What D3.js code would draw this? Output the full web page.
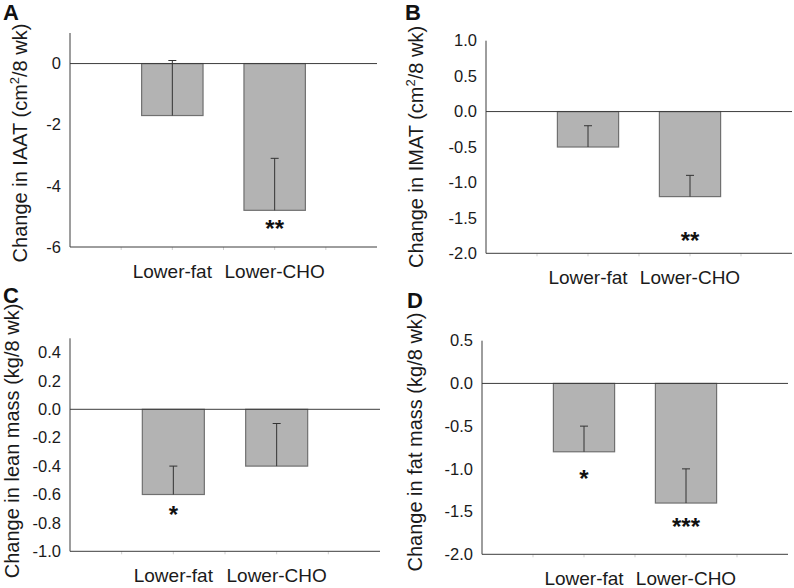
<!DOCTYPE html>
<html>
<head>
<meta charset="utf-8">
<script src="https://cdn.jsdelivr.net/npm/d3@7"></script>
<style>
  html, body { margin: 0; padding: 0; background: #fff; }
  svg { display: block; }
</style>
</head>
<body>
<svg id="chart" width="794" height="588"></svg>
<script>
// ---------------- DATA ----------------
const categories = ["Lower-fat", "Lower-CHO"];
const panelLetters = ["A", "B", "C", "D"];
const yLabelMain = ["Change in IAAT (cm", "Change in IMAT (cm", "Change in lean mass (kg/8 wk)", "Change in fat mass (kg/8 wk)"];
const yLabelSup = ["2", "2", "", ""];
const yLabelTail = ["/8 wk)", "/8 wk)", "", ""];
const yDomains = [[-6, 1], [-2, 1], [-1, 0.5], [-2, 0.5]];
const yTickValues = [
  [0, -2, -4, -6],
  [1, 0.5, 0, -0.5, -1, -1.5, -2],
  [0.4, 0.2, 0, -0.2, -0.4, -0.6, -0.8, -1],
  [0.5, 0, -0.5, -1, -1.5, -2]
];
const yTickLabels = [
  ["0", "-2", "-4", "-6"],
  ["1.0", "0.5", "0.0", "-0.5", "-1.0", "-1.5", "-2.0"],
  ["0.4", "0.2", "0.0", "-0.2", "-0.4", "-0.6", "-0.8", "-1.0"],
  ["0.5", "0.0", "-0.5", "-1.0", "-1.5", "-2.0"]
];
// mean change per panel [Lower-fat, Lower-CHO]
const meansIAAT = [-1.7, -4.8];
const meansIMAT = [-0.5, -1.2];
const meansLean = [-0.6, -0.4];
const meansFat = [-0.8, -1.4];
// top end of error bars (mean + SE)
const errTopIAAT = [0.1, -3.1];
const errTopIMAT = [-0.2, -0.9];
const errTopLean = [-0.4, -0.1];
const errTopFat = [-0.5, -1.0];
// significance markers and the value level at which they sit
const starsIAAT = ["", "**"], starLevelIAAT = [null, -5.24];
const starsIMAT = ["", "**"], starLevelIMAT = [null, -1.76];
const starsLean = ["*", ""], starLevelLean = [-0.71, null];
const starsFat = ["*", "***"], starLevelFat = [-1.06, -1.62];

const panelMeans = [meansIAAT, meansIMAT, meansLean, meansFat];
const panelErrTop = [errTopIAAT, errTopIMAT, errTopLean, errTopFat];
const panelStars = [starsIAAT, starsIMAT, starsLean, starsFat];
const panelStarLevels = [starLevelIAAT, starLevelIMAT, starLevelLean, starLevelFat];

// ---------------- LAYOUT ----------------
const layout = [
  { x0: 70,  x1: 377, yTop: 33,    yBot: 247,   letterX: 3,   letterY: 20,  labX: 27,  labY: 143 },
  { x0: 486, x1: 792, yTop: 40.7,  yBot: 253.3, letterX: 405, letterY: 20,  labX: 423, labY: 147 },
  { x0: 70,  x1: 380, yTop: 338.3, yBot: 551.3, letterX: 3,   letterY: 303, labX: 19,  labY: 441 },
  { x0: 482, x1: 788, yTop: 340.7, yBot: 554.3, letterX: 407, letterY: 308, labX: 422, labY: 442 }
];

const FONT = "'Liberation Sans', Arial, Helvetica, sans-serif";
const axisColor = "#3c3c3c";
const barFill = "#b3b3b3";
const barStroke = "#707070";
const textColor = "#1a1a1a";

const svg = d3.select("#chart").style("font-family", FONT);

layout.forEach((L, i) => {
  const g = svg.append("g");
  const y = d3.scaleLinear().domain(yDomains[i]).range([L.yBot, L.yTop]);
  const x = d3.scalePoint().domain(categories).range([L.x0, L.x1]).padding(1);
  const step = x.step();
  const barW = step * 0.6;

  const rows = categories.map((c, j) => ({
    cat: c, mean: panelMeans[i][j], top: panelErrTop[i][j],
    star: panelStars[i][j], starLevel: panelStarLevels[i][j]
  }));

  // minor ticks on the bottom axis (half-step positions)
  const minor = d3.range(1, 6).map(k => L.x0 + k * step / 2);
  g.selectAll("line.minor").data(minor).join("line")
    .attr("x1", d => d).attr("x2", d => d)
    .attr("y1", L.yBot).attr("y2", L.yBot + 3)
    .attr("stroke", "#cfcfcf").attr("stroke-width", 1);

  // bars
  g.selectAll("rect.bar").data(rows).join("rect")
    .attr("x", d => x(d.cat) - barW / 2)
    .attr("y", d => y(Math.max(0, d.mean)))
    .attr("width", barW)
    .attr("height", d => Math.abs(y(d.mean) - y(0)))
    .attr("fill", barFill)
    .attr("stroke", barStroke)
    .attr("stroke-width", 1.2);

  // error bars
  g.selectAll("line.err").data(rows).join("line")
    .attr("x1", d => x(d.cat)).attr("x2", d => x(d.cat))
    .attr("y1", d => y(d.mean)).attr("y2", d => y(d.top))
    .attr("stroke", "#333").attr("stroke-width", 1);
  g.selectAll("line.cap").data(rows).join("line")
    .attr("x1", d => x(d.cat) - 4).attr("x2", d => x(d.cat) + 4)
    .attr("y1", d => y(d.top)).attr("y2", d => y(d.top))
    .attr("stroke", "#333").attr("stroke-width", 1);

  // zero line
  g.append("line")
    .attr("x1", L.x0).attr("x2", L.x1)
    .attr("y1", y(0)).attr("y2", y(0))
    .attr("stroke", axisColor).attr("stroke-width", 1);

  // axes lines
  g.append("line")
    .attr("x1", L.x0).attr("x2", L.x0)
    .attr("y1", L.yTop).attr("y2", L.yBot)
    .attr("stroke", axisColor).attr("stroke-width", 1);
  g.append("line")
    .attr("x1", L.x0).attr("x2", L.x1)
    .attr("y1", L.yBot).attr("y2", L.yBot)
    .attr("stroke", axisColor).attr("stroke-width", 1);

  // y tick labels via d3 axis
  const axisG = g.append("g").attr("transform", `translate(${L.x0},0)`)
    .call(d3.axisLeft(y).tickValues(yTickValues[i]).tickSize(0).tickPadding(9)
      .tickFormat((d, k) => yTickLabels[i][k]));
  axisG.select(".domain").remove();
  axisG.selectAll("text")
    .attr("font-family", FONT).attr("font-size", 16.5).attr("fill", textColor);

  // category labels
  g.selectAll("text.cat").data(rows).join("text")
    .attr("x", d => x(d.cat)).attr("y", L.yBot + 31)
    .attr("text-anchor", "middle")
    .attr("font-size", 19).attr("fill", textColor)
    .text(d => d.cat);

  // significance stars
  g.selectAll("text.star").data(rows.filter(d => d.star)).join("text")
    .attr("x", d => x(d.cat)).attr("y", d => y(d.starLevel) + 13)
    .attr("text-anchor", "middle")
    .attr("font-size", 24).attr("font-weight", "bold").attr("fill", "#111")
    .text(d => d.star);

  // y-axis title
  const t = g.append("text")
    .attr("transform", `translate(${L.labX},${L.labY}) rotate(-90)`)
    .attr("text-anchor", "middle")
    .attr("font-size", 20).attr("fill", textColor);
  t.append("tspan").text(yLabelMain[i]);
  if (yLabelSup[i]) {
    t.append("tspan").attr("dy", -8).attr("font-size", 13).text(yLabelSup[i]);
    t.append("tspan").attr("dy", 8).text(yLabelTail[i]);
  }

  // panel letter
  g.append("text")
    .attr("x", L.letterX).attr("y", L.letterY)
    .attr("font-size", 22).attr("font-weight", "bold").attr("fill", "#111")
    .text(panelLetters[i]);
});
</script>
</body>
</html>
